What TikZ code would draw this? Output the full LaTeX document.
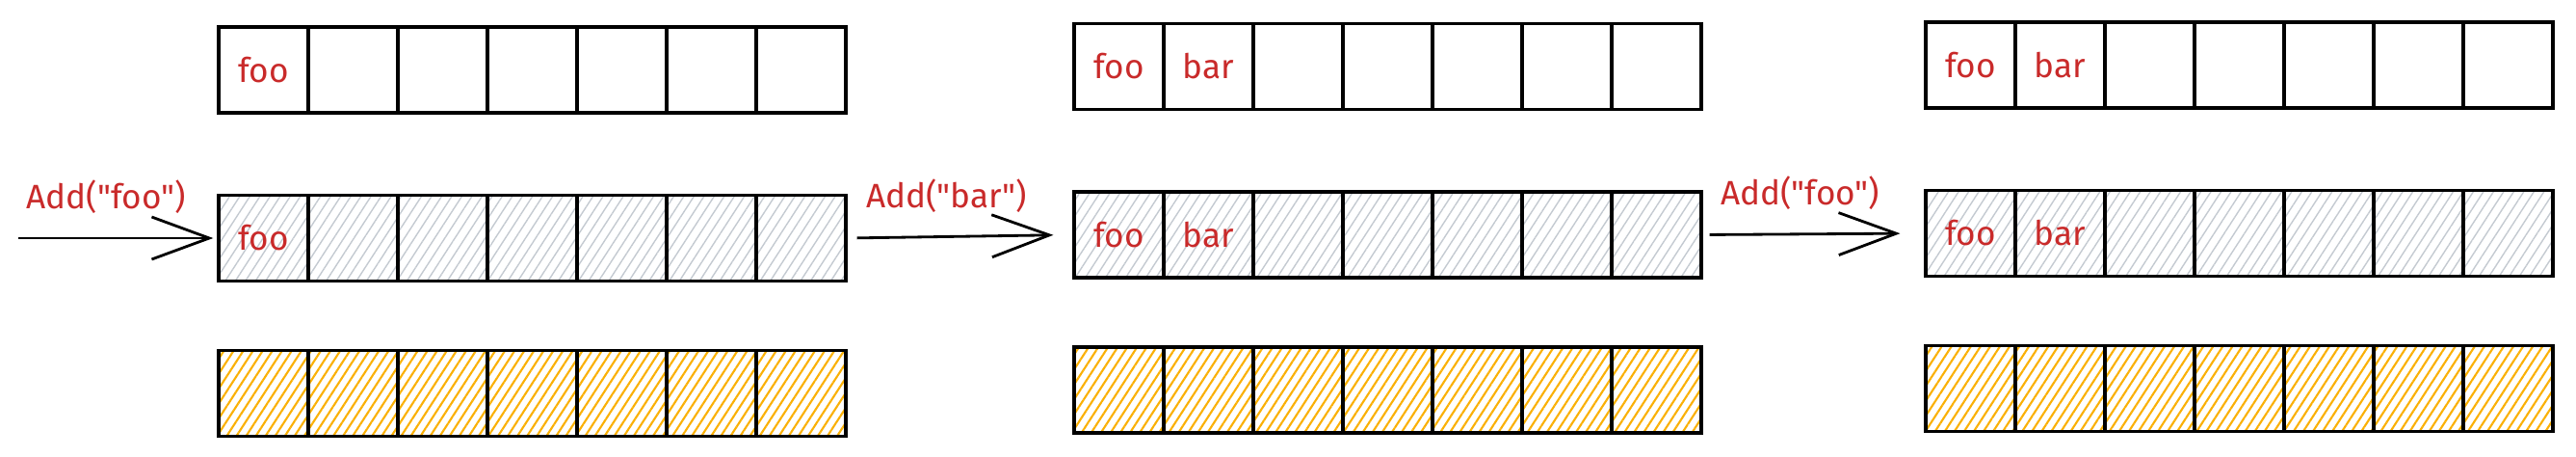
\documentclass[tikz,border=0pt]{standalone}
\usepackage{fontspec}
\newfontfamily\handfont{Fira Sans}[Ligatures=TeXOff]
\usetikzlibrary{arrows.meta,patterns.meta,positioning}
\definecolor{callred}{HTML}{C92A2A}
\definecolor{hatchgrey}{HTML}{C4CAD1}
\definecolor{hatchorange}{HTML}{FAB005}

\begin{document}
\begin{tikzpicture}[
		cell/.style={draw, line width=0.9pt, rectangle, minimum width=0.93cm, minimum height=0.89cm, inner sep=0pt},
		greycell/.style={cell, pattern={Lines[angle=57, distance=2.5pt, line width=0.4pt]}, pattern color=hatchgrey},
		orangecell/.style={cell, pattern={Lines[angle=57, distance=2.4pt, line width=0.6pt]}, pattern color=hatchorange},
		call/.style={font=\handfont\fontsize{10}{12}\selectfont, text=callred},
		push/.style={line width=0.8pt, -{Straight Barb[length=17pt, width=12.5pt]}}
	]
	\useasboundingbox (0,0) rectangle (26.74,-4.74);

	% Cells
	\foreach \g/\gx/\gy in {1/2.735/-0.725, 2/11.615/-0.69, 3/20.455/-0.675}
		{
			\foreach \i in {1,...,7}
				{
					\node[cell] (top\g\i) at (\gx+\i*0.93-0.93, \gy) {};
					\node[greycell] (mid\g\i) at (\gx+\i*0.93-0.93, \gy-1.745) {};
					\node[orangecell] (low\g\i) at (\gx+\i*0.93-0.93, \gy-3.355) {};
				}
		}

	% Words
	\foreach \c/\w in {top11/foo, mid11/foo, top21/foo, mid21/foo, top22/bar, mid22/bar, top31/foo, mid31/foo, top32/bar, mid32/bar}
		\node[call] (\c word) at (\c) {\w};

	% Calls
	\coordinate (start) at ([xshift=-2.07cm]mid11.west);
	\draw[push, shorten >=0.05cm] (start) -- (mid11.west)
		node[call, pos=0.44, above=0.12cm] (call1) {Add("foo")};
	\draw[push, shorten <=0.1cm, shorten >=0.2cm] (mid17.east) -- (mid21.west)
		node[call, pos=0.44, above=0.12cm] (call2) {Add("bar")};
	\draw[push, shorten <=0.07cm, shorten >=0.25cm] (mid27.east) -- (mid31.west)
		node[call, pos=0.44, above=0.12cm] (call3) {Add("foo")};
\end{tikzpicture}
\end{document}
